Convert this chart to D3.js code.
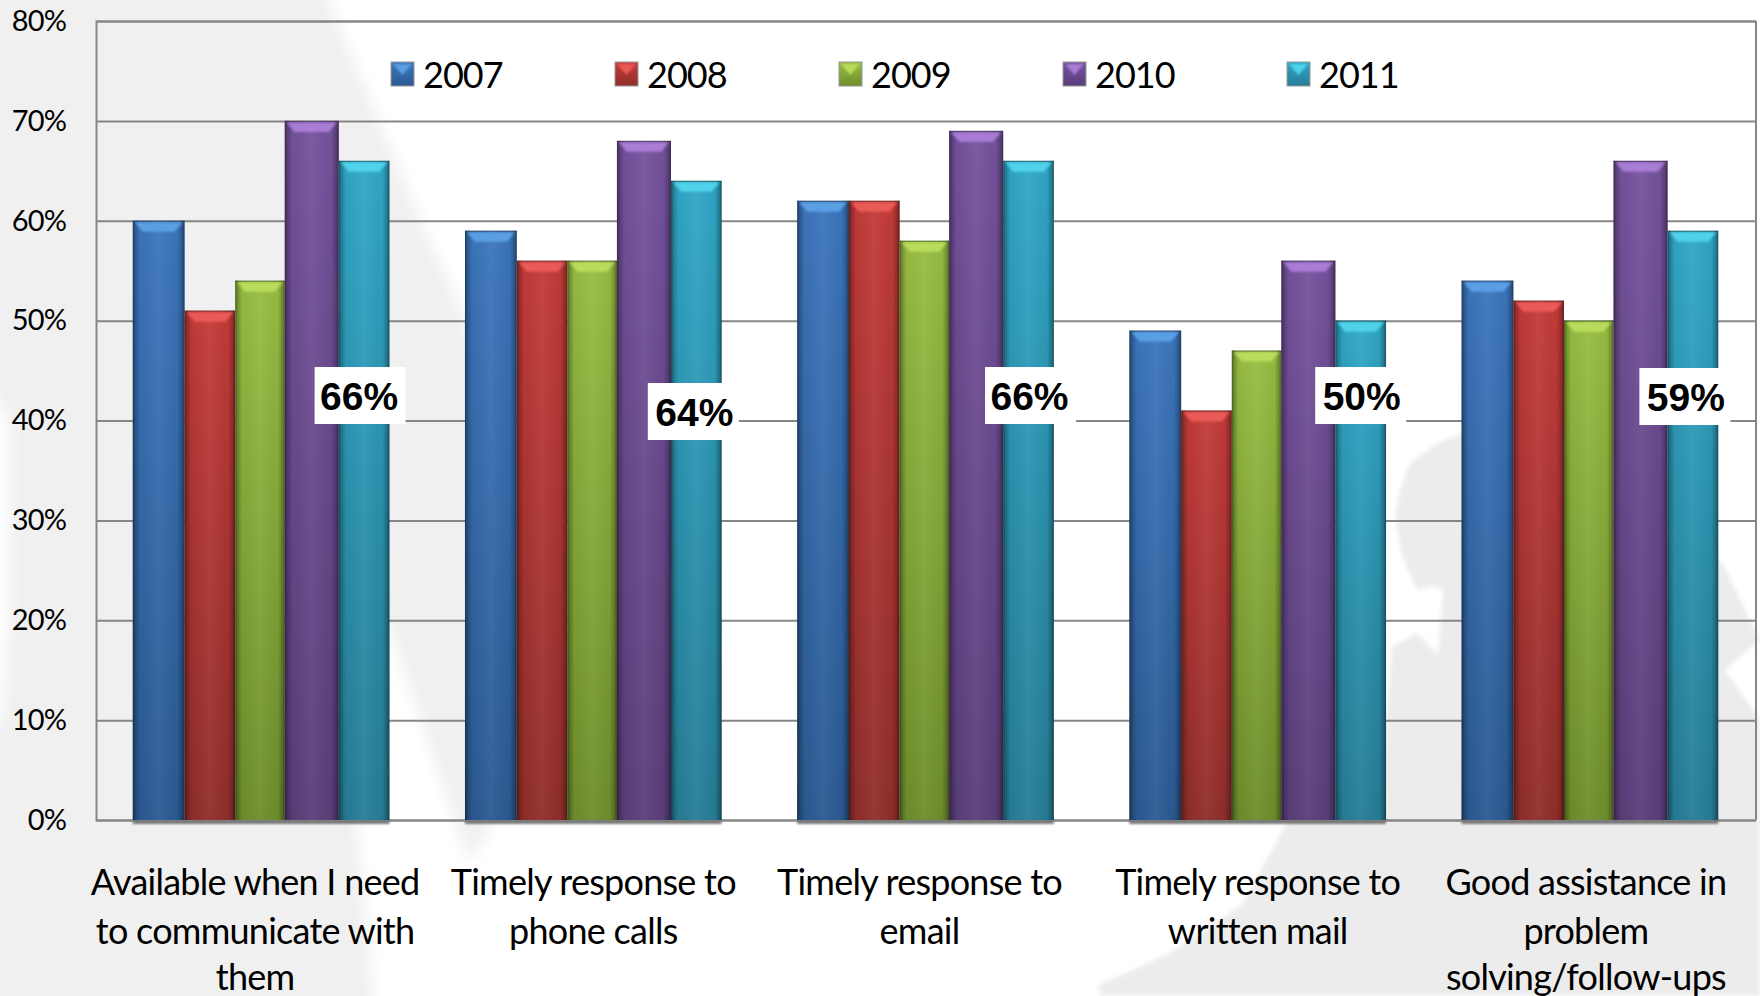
<!DOCTYPE html>
<html>
<head>
<meta charset="utf-8">
<title>Satisfaction by year</title>
<script src="https://cdn.jsdelivr.net/npm/d3@7"></script>
<style>
  html, body { margin: 0; padding: 0; background: #fff; overflow: hidden; }
  svg { display: block; }
  text { fill: #000; }
  .tick-label { font-family: Lato, sans-serif; font-size: 29px; letter-spacing: -0.9px; }
  .cat-label { font-family: Lato, sans-serif; font-size: 36px; letter-spacing: -0.75px; }
  .legend-label { font-family: Lato, sans-serif; font-size: 36px; letter-spacing: -1px; }
  .value-label { font-family: "Liberation Sans", Arial, sans-serif; font-size: 39px; font-weight: bold; }
</style>
</head>
<body>
<script>
const categories = [
  ["Available when I need", "to communicate with", "them"],
  ["Timely response to", "phone calls"],
  ["Timely response to", "email"],
  ["Timely response to", "written mail"],
  ["Good assistance in", "problem", "solving/follow-ups"]
];
const years = ["2007", "2008", "2009", "2010", "2011"];

const values2007 = [60, 59, 62, 49, 54];
const values2008 = [51, 56, 62, 41, 52];
const values2009 = [54, 56, 58, 47, 50];
const values2010 = [70, 68, 69, 56, 66];
const values2011 = [66, 64, 66, 50, 59];
const seriesValues = [values2007, values2008, values2009, values2010, values2011];

const yTicks = [0, 10, 20, 30, 40, 50, 60, 70, 80];

// bar colours: top of the body, bottom of the body, bevel highlight
const barTop = ["#3c76bd", "#c33b39", "#98be43", "#76539e", "#30a7c7"];
const barBottom = ["#2b5a92", "#902e2b", "#6e8e2c", "#5a3e7a", "#267d96"];
const barBevel = ["#5a9fe4", "#ea5a56", "#b9dc5c", "#a97bd6", "#50d2ea"];

// the callouts sit on the 2011 bar at a hand-picked height
const calloutLevel = [42.5, 40.9, 42.5, 42.5, 42.4];
const calloutShift = [-4, -3, 2, 0, -8];
const calloutTextShift = [-1, 1, -1, 1, 1];
const labelShift = [-6, 0, -6, 0, -4];

const w = 1760;
const h = 996;
const margin = { left: 96, right: 4, top: 21, bottom: 176 };

const svg = d3.select("body")
  .append("svg")
  .attr("width", w)
  .attr("height", h);

const defs = svg.append("defs");

defs.append("filter").attr("id", "soft")
  .attr("x", "-10%").attr("y", "-10%").attr("width", "120%").attr("height", "120%")
  .append("feGaussianBlur").attr("stdDeviation", 7);
defs.append("filter").attr("id", "soft-map")
  .attr("x", "-5%").attr("y", "-5%").attr("width", "110%").attr("height", "110%")
  .append("feGaussianBlur").attr("stdDeviation", 2);
defs.append("filter").attr("id", "soft-small")
  .attr("x", "-20%").attr("y", "-20%").attr("width", "140%").attr("height", "140%")
  .append("feGaussianBlur").attr("stdDeviation", 1.2);
defs.append("filter").attr("id", "shadow")
  .attr("x", "-5%").attr("y", "-100%").attr("width", "110%").attr("height", "300%")
  .append("feGaussianBlur").attr("stdDeviation", 1.2);

years.forEach((year, i) => {
  const grad = defs.append("linearGradient")
    .attr("id", "body-" + year)
    .attr("x1", 0).attr("y1", 0).attr("x2", 0).attr("y2", 1);
  grad.append("stop").attr("offset", 0).attr("stop-color", barTop[i]);
  grad.append("stop").attr("offset", 1).attr("stop-color", barBottom[i]);
});

const edge = defs.append("linearGradient")
  .attr("id", "edge")
  .attr("x1", 0).attr("y1", 0).attr("x2", 1).attr("y2", 0);
[[0, "#000", 0.5], [0.05, "#000", 0.25], [0.14, "#000", 0.03], [0.5, "#fff", 0.05],
 [0.86, "#000", 0.03], [0.95, "#000", 0.25], [1, "#000", 0.5]].forEach((s) => {
  edge.append("stop")
    .attr("offset", s[0])
    .attr("stop-color", s[1])
    .attr("stop-opacity", s[2]);
});

// pale map watermark behind the plot
const line = d3.line();
const bg = svg.append("g");
bg.append("path")
  .attr("d", line([[-30, -30], [316, -30], [337, 21], [379, 121], [423, 225], [457, 300], [472, 340],
    [482, 700], [490, 830], [470, 862], [453, 817], [390, 631], [378, 620], [357, 830],
    [377, 1030], [-30, 1030], [-30, 760], [2, 720], [9, 620], [9, 420], [-30, 360]]) + "Z")
  .attr("fill", "#f0f0f0")
  .attr("filter", "url(#soft)");
bg.append("path")
  .attr("d", line([[1470, 430], [1440, 442], [1410, 463], [1400, 490], [1395, 517], [1402, 556], [1417, 590],
    [1432, 586], [1443, 590], [1438, 655], [1417, 633], [1392, 647], [1386, 720], [1380, 800], [1286, 824],
    [1242, 905], [1170, 953], [1097, 986], [1102, 996], [1760, 996], [1760, 720], [1725, 670], [1760, 640],
    [1722, 562], [1500, 430]]) + "Z")
  .attr("fill", "#ececec")
  .attr("filter", "url(#soft-map)");

const xGroup = d3.scaleBand()
  .domain(d3.range(categories.length))
  .range([margin.left - 1, w - margin.right])
  .paddingInner(0.2274)
  .paddingOuter(0.1137);

// bars in a cluster are not quite equal in width
const barWeights = [46, 45, 44, 48, 45];
const barEdges = d3.cumsum([0].concat(barWeights));
const xBar = d3.scaleLinear()
  .domain([0, d3.sum(barWeights)])
  .range([0, xGroup.bandwidth()]);
const barX = (s) => xBar(barEdges[s]);
const barW = (s) => xBar(barEdges[s + 1]) - xBar(barEdges[s]);

const y = d3.scaleLinear()
  .domain([0, 80])
  .range([h - margin.bottom, margin.top]);

// y axis with full-width gridlines
const yAxis = svg.append("g")
  .attr("transform", `translate(${margin.left},0)`)
  .call(d3.axisLeft(y)
    .tickValues(yTicks)
    .tickSize(-(w - margin.left - margin.right))
    .tickPadding(30)
    .tickFormat((d) => d + "%"));

yAxis.select(".domain").attr("stroke", "#868686").attr("stroke-width", 2);
yAxis.selectAll(".tick line").attr("stroke", "#868686").attr("stroke-width", 2);
yAxis.selectAll(".tick text").attr("class", "tick-label").attr("fill", "#000");

svg.append("line")
  .attr("x1", w - margin.right).attr("x2", w - margin.right)
  .attr("y1", y(80)).attr("y2", y(0))
  .attr("stroke", "#868686").attr("stroke-width", 2);

// soft shadow along the foot of each cluster
svg.append("g").selectAll("rect")
  .data(d3.range(categories.length))
  .enter()
  .append("rect")
  .attr("x", (d) => xGroup(d))
  .attr("y", y(0))
  .attr("width", xGroup.bandwidth())
  .attr("height", 4)
  .attr("fill", "#777")
  .attr("filter", "url(#shadow)");

const barData = [];
seriesValues.forEach((vals, s) => {
  vals.forEach((v, c) => barData.push({ year: years[s], s: s, c: c, value: v }));
});

const bar = svg.append("g").selectAll("g")
  .data(barData)
  .enter()
  .append("g")
  .attr("transform", (d) => `translate(${xGroup(d.c) + barX(d.s)},${y(d.value)})`);

bar.append("rect")
  .attr("width", (d) => barW(d.s))
  .attr("height", (d) => y(0) - y(d.value))
  .attr("fill", (d) => "url(#body-" + d.year + ")");

bar.append("rect")
  .attr("width", (d) => barW(d.s))
  .attr("height", (d) => y(0) - y(d.value))
  .attr("fill", "url(#edge)");

// bevelled cap on top of each bar
bar.append("path")
  .attr("d", (d) => {
    const bw = barW(d.s);
    return line([[2, 1.5], [bw - 2, 1.5], [bw - 10, 11], [10, 11]]) + "Z";
  })
  .attr("fill", (d) => barBevel[d.s])
  .attr("filter", "url(#soft-small)");

bar.append("line")
  .attr("x2", (d) => barW(d.s))
  .attr("y1", 0.5).attr("y2", 0.5)
  .attr("stroke", "#333")
  .attr("stroke-opacity", 0.55);

// category labels under the axis
const xAxis = svg.append("g")
  .attr("transform", `translate(0,${y(0)})`)
  .call(d3.axisBottom(xGroup).tickSize(0).tickFormat(""));
xAxis.select(".domain").attr("stroke", "none");
const lineTops = [75, 124, 170];
xAxis.selectAll(".tick").each(function (d) {
  const t = d3.select(this).select("text")
    .attr("class", "cat-label")
    .attr("fill", "#000")
    .attr("text-anchor", "middle")
    .attr("y", 0)
    .attr("dy", null);
  t.selectAll("tspan")
    .data(categories[d])
    .enter()
    .append("tspan")
    .attr("x", labelShift[d])
    .attr("y", (l, i) => lineTops[i])
    .text((l) => l);
});

// 2011 value callouts on white plates
const callout = svg.append("g").selectAll("g")
  .data(values2011)
  .enter()
  .append("g")
  .attr("transform", (d, i) =>
    `translate(${xGroup(i) + barX(4) + barW(4) / 2 + calloutShift[i]},${y(calloutLevel[i])})`);

callout.append("rect")
  .attr("x", -45.5)
  .attr("y", -28.5)
  .attr("width", 91)
  .attr("height", 57)
  .attr("fill", "#fff");

callout.append("text")
  .attr("class", "value-label")
  .attr("text-anchor", "middle")
  .attr("x", (d, i) => calloutTextShift[i])
  .attr("y", 14)
  .text((d) => d + "%");

// legend across the top band
const legendX = d3.scalePoint()
  .domain(years)
  .range([391, 391 + 224 * 4]);

const legendItem = svg.append("g").selectAll("g")
  .data(years)
  .enter()
  .append("g")
  .attr("transform", (d) => `translate(${legendX(d)},62)`);

legendItem.append("rect")
  .attr("width", 23)
  .attr("height", 24)
  .attr("fill", (d) => "url(#body-" + d + ")")
  .attr("stroke", "#999")
  .attr("stroke-width", 1);

legendItem.append("path")
  .attr("d", line([[2, 2], [21, 2], [11.5, 13]]) + "Z")
  .attr("fill", (d, i) => barBevel[i])
  .attr("filter", "url(#soft-small)");

legendItem.append("text")
  .attr("class", "legend-label")
  .attr("x", 32)
  .attr("y", 26)
  .text((d) => d);
</script>
</body>
</html>
